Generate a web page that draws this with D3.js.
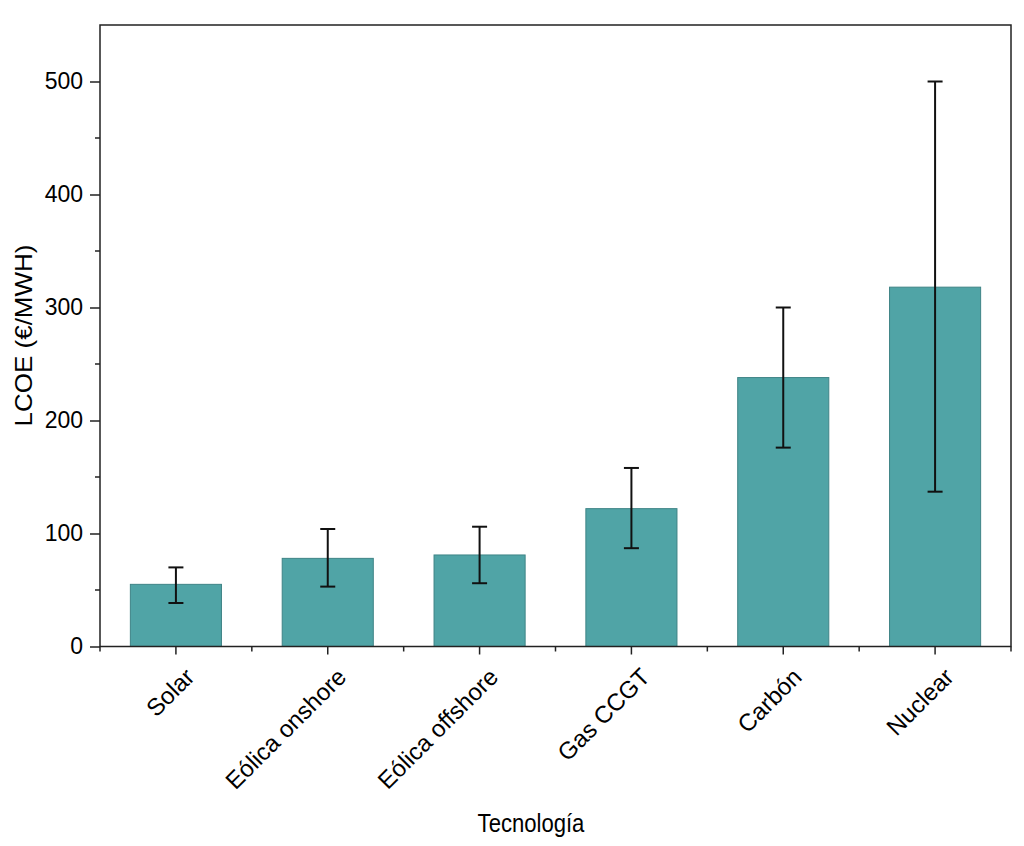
<!DOCTYPE html>
<html>
<head>
<meta charset="utf-8">
<script src="https://cdn.jsdelivr.net/npm/d3@7"></script>
<style>
  body { margin: 0; background: #fff; }
  text { font-family: "Liberation Sans", Arial, sans-serif; fill: #000; }
</style>
</head>
<body>
<script>
// data
const categories = ["Solar", "Eólica onshore", "Eólica offshore", "Gas CCGT", "Carbón", "Nuclear"];
const values = [55, 78, 81, 122, 238, 318];
const errLow = [38.5, 53, 56, 87, 176, 137];
const errHigh = [70, 104, 106, 158, 300, 500];
const yTicks = [0, 100, 200, 300, 400, 500];

const width = 1024, height = 846;
const margin = {left: 100, right: 13, top: 25, bottom: 200};

const svg = d3.select("body").append("svg")
    .attr("width", width)
    .attr("height", height);

const x = d3.scaleBand()
    .domain(categories)
    .range([margin.left, width - margin.right])
    .paddingInner(0.4)
    .paddingOuter(0.2);

const y = d3.scaleLinear()
    .domain([0, 550])
    .range([646.5, margin.top]);

const rows = categories.map((c, i) => ({c, v: values[i], lo: errLow[i], hi: errHigh[i]}));

// bars
svg.append("g")
    .selectAll("rect")
    .data(rows)
    .join("rect")
    .attr("x", d => x(d.c))
    .attr("width", x.bandwidth())
    .attr("y", d => y(d.v))
    .attr("height", d => y(0) - y(d.v))
    .attr("fill", "#50a4a6")
    .attr("stroke", "#3f8486")
    .attr("stroke-width", 1);

// error bars
const err = svg.append("g")
    .attr("stroke", "#111")
    .attr("stroke-width", 2);
const cx = d => x(d.c) + x.bandwidth() / 2;
err.selectAll("line.v").data(rows).join("line").attr("class", "v")
    .attr("x1", cx).attr("x2", cx)
    .attr("y1", d => y(d.lo)).attr("y2", d => y(d.hi));
err.selectAll("line.t").data(rows).join("line").attr("class", "t")
    .attr("x1", d => cx(d) - 7.5).attr("x2", d => cx(d) + 7.5)
    .attr("y1", d => y(d.hi)).attr("y2", d => y(d.hi));
err.selectAll("line.b").data(rows).join("line").attr("class", "b")
    .attr("x1", d => cx(d) - 7.5).attr("x2", d => cx(d) + 7.5)
    .attr("y1", d => y(d.lo)).attr("y2", d => y(d.lo));

// frame
const x0 = margin.left, x1 = width - margin.right;
svg.append("rect")
    .attr("x", x0).attr("y", y(550))
    .attr("width", x1 - x0).attr("height", y(0) - y(550))
    .attr("fill", "none")
    .attr("stroke", "#222")
    .attr("stroke-width", 1.5);

// y axis
const yAxis = svg.append("g")
    .attr("transform", `translate(${x0},0)`)
    .call(d3.axisLeft(y).tickValues(yTicks).tickSize(10).tickPadding(7));
yAxis.select(".domain").remove();
yAxis.selectAll("line").attr("stroke", "#222").attr("stroke-width", 1.5);
yAxis.selectAll("text").style("font-size", "23px").attr("fill", "#000");
// minor y ticks
svg.append("g").selectAll("line")
    .data(d3.range(50, 550, 100))
    .join("line")
    .attr("x1", x0 - 5).attr("x2", x0)
    .attr("y1", d => y(d)).attr("y2", d => y(d))
    .attr("stroke", "#222").attr("stroke-width", 1.5);

// x axis
const xAxis = svg.append("g")
    .attr("transform", `translate(0,${y(0)})`)
    .call(d3.axisBottom(x).tickSize(8));
xAxis.select(".domain").remove();
xAxis.selectAll("line").attr("stroke", "#222").attr("stroke-width", 1.5);
xAxis.selectAll("text")
    .style("font-size", "24px")
    .attr("text-anchor", "end")
    .attr("y", 0)
    .attr("dy", 0)
    .attr("transform", "translate(20,32) rotate(-45)");
// minor x ticks between categories
const step = x.step();
svg.append("g").selectAll("line")
    .data(d3.range(0, categories.length + 1))
    .join("line")
    .attr("x1", i => x0 + i * step)
    .attr("x2", i => x0 + i * step)
    .attr("y1", y(0)).attr("y2", y(0) + 5)
    .attr("stroke", "#222").attr("stroke-width", 1.5);

// axis titles
svg.append("text")
    .attr("transform", "translate(531,832) scale(0.85,1)")
    .attr("text-anchor", "middle")
    .style("font-size", "26px")
    .text("Tecnología");

svg.append("text")
    .attr("transform", "translate(32,335.5) scale(0.9,1) rotate(-90)")
    .attr("text-anchor", "middle")
    .style("font-size", "26px")
    .text("LCOE (€/MWH)");
</script>
</body>
</html>
